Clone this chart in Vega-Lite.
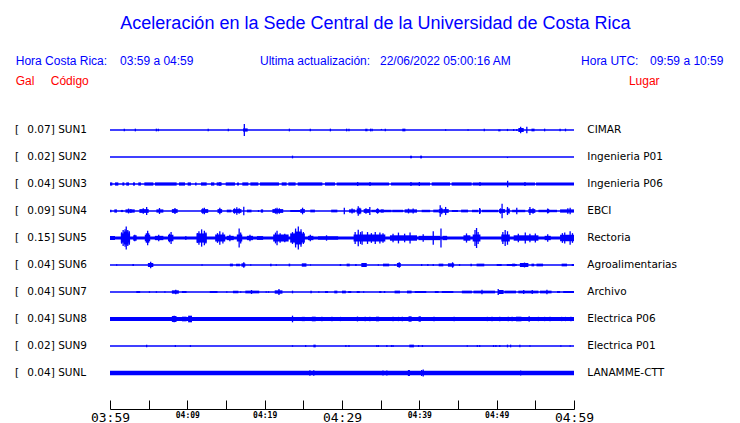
{
  "$schema": "https://vega.github.io/schema/vega-lite/v6.json",
  "width": 464,
  "height": 409,
  "autosize": {"type": "none"},
  "padding": {"left": 110, "right": 166, "top": 0, "bottom": 14},
  "background": "white",
  "config": {"view": {"stroke": null}, "axis": {"grid": false}},
  "encoding": {
    "x": {"field": "t", "type": "quantitative",
      "scale": {"domain": [0, 60], "nice": false, "zero": false},
      "axis": {"values": [0,5,10,15,20,25,30,35,40,45,50,55,60], "title": null, "grid": false, "domain": true,
        "domainColor": "black", "domainWidth": 1, "tickColor": "black", "tickSize": -9, "tickWidth": 1,
        "labelExpr": "datum.value % 10 === 0 ? ['03:59','04:09','04:19','04:29','04:39','04:49','04:59'][datum.value/10] : ''",
        "labelFont": "DejaVu Sans Mono",
        "labelFontSize": {"condition": {"test": "datum.value % 30 === 0", "value": 13}, "value": 8},
        "labelFontWeight": {"condition": {"test": "datum.value % 30 === 0", "value": "normal"}, "value": "bold"},
        "labelPadding": {"condition": {"test": "datum.value % 30 === 0", "value": 17}, "value": 15},
        "labelBaseline": "middle",
        "labelColor": "black", "labelOverlap": false, "labelFlush": false, "labelBound": false}},
    "y": {"field": "v", "type": "quantitative",
      "scale": {"domain": [-38.148, 113.333], "reverse": true, "nice": false, "zero": false}, "axis": null}
  },
  "layer": [
    {
      "data": {"values": [
        {"s":"SUN1","t":0,"t2":60,"v":10},{"s":"SUN2","t":0,"t2":60,"v":20},{"s":"SUN3","t":0,"t2":60,"v":30},
        {"s":"SUN4","t":0,"t2":60,"v":40},{"s":"SUN5","t":0,"t2":60,"v":50},{"s":"SUN6","t":0,"t2":60,"v":60},
        {"s":"SUN7","t":0,"t2":60,"v":70},{"s":"SUN8","t":0,"t2":60,"v":80},{"s":"SUN9","t":0,"t2":60,"v":90},
        {"s":"SUNL","t":0,"t2":60,"v":100}]},
      "mark": {"type": "rule", "color": "#0000ff", "strokeWidth": 1.3},
      "encoding": {"x2": {"field": "t2"}}
    },
    {
      "data": {"values": [
        {"s":"SUN1","t":17.2,"t2":17.8,"v":9.4,"v2":10.6},{"s":"SUN1","t":33.0,"t2":33.3,"v":9.5,"v2":10.5},
        {"s":"SUN1","t":37.8,"t2":38.2,"v":9.5,"v2":10.5},{"s":"SUN1","t":50.2,"t2":50.5,"v":9.8,"v2":10.5},
        {"s":"SUN1","t":52.8,"t2":53.5,"v":9.25,"v2":10.75},{"s":"SUN1","t":54.5,"t2":54.9,"v":9.5,"v2":10.5},
        {"s":"SUN2","t":38.8,"t2":39.05,"v":19.5,"v2":20.5},{"s":"SUN2","t":40.1,"t2":40.35,"v":19.5,"v2":20.5},
        {"s":"SUN3","t":0,"t2":0.3,"v":29.4,"v2":30.6},{"s":"SUN3","t":0.65,"t2":1.08,"v":29.4,"v2":30.6},
        {"s":"SUN3","t":1.6,"t2":1.85,"v":29.4,"v2":30.6},{"s":"SUN3","t":2.1,"t2":2.46,"v":29.4,"v2":30.6},
        {"s":"SUN3","t":2.97,"t2":3.23,"v":29.4,"v2":30.6},{"s":"SUN3","t":3.66,"t2":4.0,"v":29.4,"v2":30.6},
        {"s":"SUN3","t":4.44,"t2":5.6,"v":29.4,"v2":30.6},{"s":"SUN3","t":5.82,"t2":8.62,"v":29.4,"v2":30.6},
        {"s":"SUN3","t":8.92,"t2":9.7,"v":29.4,"v2":30.6},{"s":"SUN3","t":10.04,"t2":10.47,"v":29.4,"v2":30.6},
        {"s":"SUN3","t":11.0,"t2":11.2,"v":29.4,"v2":30.6},{"s":"SUN3","t":11.77,"t2":12.5,"v":29.4,"v2":30.6},
        {"s":"SUN3","t":13.06,"t2":13.49,"v":29.4,"v2":30.6},{"s":"SUN3","t":13.79,"t2":14.44,"v":29.4,"v2":30.6},
        {"s":"SUN3","t":14.96,"t2":16.16,"v":29.4,"v2":30.6},{"s":"SUN3","t":16.42,"t2":16.68,"v":29.4,"v2":30.6},
        {"s":"SUN3","t":17.11,"t2":17.89,"v":29.4,"v2":30.6},{"s":"SUN3","t":18.15,"t2":19.18,"v":29.4,"v2":30.6},
        {"s":"SUN3","t":19.4,"t2":21.85,"v":29.4,"v2":30.6},{"s":"SUN3","t":22.2,"t2":22.84,"v":29.4,"v2":30.6},
        {"s":"SUN3","t":23.06,"t2":24.0,"v":29.4,"v2":30.6},{"s":"SUN3","t":24.27,"t2":27.46,"v":29.4,"v2":30.6},
        {"s":"SUN3","t":27.8,"t2":29.1,"v":29.4,"v2":30.6},{"s":"SUN3","t":29.31,"t2":36.08,"v":29.4,"v2":30.6},
        {"s":"SUN3","t":36.34,"t2":41.38,"v":29.4,"v2":30.6},{"s":"SUN3","t":41.6,"t2":43.97,"v":29.4,"v2":30.6},
        {"s":"SUN3","t":44.18,"t2":46.77,"v":29.4,"v2":30.6},{"s":"SUN3","t":46.9,"t2":54.96,"v":29.4,"v2":30.6},
        {"s":"SUN3","t":55.09,"t2":60,"v":29.4,"v2":30.6},
        {"s":"SUN4","t":0,"t2":0.2,"v":39.5,"v2":40.5},{"s":"SUN4","t":0.56,"t2":0.9,"v":39.4,"v2":40.6},
        {"s":"SUN4","t":1.4,"t2":1.7,"v":39.6,"v2":40.4},{"s":"SUN4","t":2.0,"t2":3.2,"v":39.4,"v2":40.6},
        {"s":"SUN4","t":3.8,"t2":5.0,"v":39.3,"v2":40.7},{"s":"SUN4","t":6.0,"t2":6.9,"v":39.4,"v2":40.6},
        {"s":"SUN4","t":8.0,"t2":8.75,"v":39.3,"v2":40.7},{"s":"SUN4","t":11.8,"t2":12.7,"v":39.3,"v2":40.7},
        {"s":"SUN4","t":13.9,"t2":14.5,"v":39.3,"v2":40.7},{"s":"SUN4","t":15.1,"t2":15.7,"v":39.5,"v2":40.5},
        {"s":"SUN4","t":15.9,"t2":17.0,"v":39.3,"v2":40.7},{"s":"SUN4","t":17.7,"t2":18.3,"v":39.5,"v2":40.5},
        {"s":"SUN4","t":19.5,"t2":19.8,"v":39.4,"v2":40.6},{"s":"SUN4","t":21.0,"t2":22.4,"v":39.3,"v2":40.7},
        {"s":"SUN4","t":23.3,"t2":24.6,"v":39.63,"v2":40.37},{"s":"SUN4","t":24.6,"t2":25.2,"v":39.3,"v2":40.7},
        {"s":"SUN4","t":25.9,"t2":26.5,"v":39.5,"v2":40.5},{"s":"SUN4","t":28.6,"t2":29.4,"v":39.5,"v2":40.5},
        {"s":"SUN4","t":30.9,"t2":31.7,"v":39.4,"v2":40.6},{"s":"SUN4","t":31.9,"t2":32.5,"v":39.1,"v2":40.9},
        {"s":"SUN4","t":32.8,"t2":33.6,"v":39.3,"v2":40.7},{"s":"SUN4","t":33.8,"t2":36.4,"v":39.55,"v2":40.45},
        {"s":"SUN4","t":34.4,"t2":34.8,"v":39.3,"v2":40.7},{"s":"SUN4","t":35.0,"t2":35.4,"v":39.4,"v2":40.6},
        {"s":"SUN4","t":36.5,"t2":37.9,"v":39.55,"v2":40.45},{"s":"SUN4","t":38.1,"t2":39.7,"v":39.4,"v2":40.6},
        {"s":"SUN4","t":40.3,"t2":41.4,"v":39.55,"v2":40.45},{"s":"SUN4","t":41.8,"t2":42.5,"v":39.5,"v2":40.5},
        {"s":"SUN4","t":42.5,"t2":43.1,"v":39.3,"v2":40.7},{"s":"SUN4","t":43.1,"t2":43.8,"v":39.3,"v2":40.7},
        {"s":"SUN4","t":44.2,"t2":45.0,"v":39.63,"v2":40.37},{"s":"SUN4","t":45.4,"t2":46.3,"v":39.5,"v2":40.5},
        {"s":"SUN4","t":46.8,"t2":47.6,"v":39.55,"v2":40.45},{"s":"SUN4","t":47.7,"t2":47.95,"v":39.2,"v2":40.8},
        {"s":"SUN4","t":48.1,"t2":50.2,"v":39.55,"v2":40.45},{"s":"SUN4","t":50.3,"t2":51.1,"v":39.3,"v2":40.7},
        {"s":"SUN4","t":51.3,"t2":51.7,"v":39.1,"v2":40.9},{"s":"SUN4","t":52.0,"t2":53.7,"v":39.55,"v2":40.45},
        {"s":"SUN4","t":54.1,"t2":55.0,"v":39.3,"v2":40.7},{"s":"SUN4","t":55.4,"t2":57.8,"v":39.55,"v2":40.45},
        {"s":"SUN4","t":56.5,"t2":56.8,"v":39.3,"v2":40.7},{"s":"SUN4","t":58.2,"t2":60,"v":39.4,"v2":40.6},
        {"s":"SUN5","t":0,"t2":60,"v":49.4,"v2":50.6},{"s":"SUN5","t":0,"t2":0.65,"v":49.26,"v2":50.74},
        {"s":"SUN5","t":1.4,"t2":2.6,"v":48.3,"v2":51.7},{"s":"SUN5","t":1.8,"t2":2.4,"v":47.6,"v2":52.4},
        {"s":"SUN5","t":3.0,"t2":3.45,"v":49.0,"v2":51.0},{"s":"SUN5","t":4.5,"t2":5.2,"v":48.8,"v2":51.2},
        {"s":"SUN5","t":5.8,"t2":6.9,"v":49.2,"v2":50.8},{"s":"SUN5","t":7.5,"t2":8.2,"v":48.8,"v2":51.2},
        {"s":"SUN5","t":9.7,"t2":9.9,"v":49.38,"v2":50.62},{"s":"SUN5","t":11.2,"t2":12.5,"v":48.3,"v2":51.7},
        {"s":"SUN5","t":13.6,"t2":14.9,"v":48.7,"v2":51.3},{"s":"SUN5","t":15.1,"t2":16.0,"v":49.2,"v2":50.8},
        {"s":"SUN5","t":16.4,"t2":17.1,"v":48.7,"v2":51.3},{"s":"SUN5","t":17.7,"t2":18.5,"v":49.2,"v2":50.8},
        {"s":"SUN5","t":19.0,"t2":19.8,"v":49.3,"v2":50.7},{"s":"SUN5","t":21.1,"t2":23.1,"v":48.7,"v2":51.3},
        {"s":"SUN5","t":23.3,"t2":25.2,"v":48.3,"v2":51.7},{"s":"SUN5","t":23.9,"t2":24.8,"v":47.6,"v2":52.4},
        {"s":"SUN5","t":25.6,"t2":26.3,"v":49.2,"v2":50.8},{"s":"SUN5","t":26.9,"t2":29.5,"v":49.38,"v2":50.62},
        {"s":"SUN5","t":31.5,"t2":35.6,"v":48.7,"v2":51.3},{"s":"SUN5","t":36.2,"t2":39.7,"v":49.0,"v2":51.0},
        {"s":"SUN5","t":39.9,"t2":42.7,"v":49.2,"v2":50.8},{"s":"SUN5","t":43.0,"t2":43.6,"v":49.2,"v2":50.8},
        {"s":"SUN5","t":45.7,"t2":46.6,"v":49.0,"v2":51.0},{"s":"SUN5","t":46.9,"t2":47.9,"v":48.7,"v2":51.3},
        {"s":"SUN5","t":50.6,"t2":51.7,"v":48.7,"v2":51.3},{"s":"SUN5","t":52.2,"t2":55.4,"v":49.0,"v2":51.0},
        {"s":"SUN5","t":56.2,"t2":57.0,"v":49.2,"v2":50.8},{"s":"SUN5","t":58.2,"t2":60,"v":48.8,"v2":51.2},
        {"s":"SUN6","t":2.9,"t2":3.1,"v":59.63,"v2":60.37},{"s":"SUN6","t":4.9,"t2":5.6,"v":59.26,"v2":60.74},
        {"s":"SUN6","t":15.5,"t2":15.9,"v":59.5,"v2":60.5},{"s":"SUN6","t":16.3,"t2":16.8,"v":59.5,"v2":60.5},
        {"s":"SUN6","t":17.0,"t2":17.5,"v":59.38,"v2":60.62},{"s":"SUN6","t":20.7,"t2":20.9,"v":59.5,"v2":60.5},
        {"s":"SUN6","t":23.1,"t2":23.3,"v":59.5,"v2":60.5},{"s":"SUN6","t":24.8,"t2":25.4,"v":59.38,"v2":60.62},
        {"s":"SUN6","t":25.9,"t2":26.0,"v":59.63,"v2":60.37},{"s":"SUN6","t":29.7,"t2":29.9,"v":59.63,"v2":60.37},
        {"s":"SUN6","t":30.6,"t2":31.0,"v":59.5,"v2":60.5},{"s":"SUN6","t":31.7,"t2":31.9,"v":59.63,"v2":60.37},
        {"s":"SUN6","t":32.5,"t2":33.2,"v":59.26,"v2":60.74},{"s":"SUN6","t":35.3,"t2":36.1,"v":59.5,"v2":60.5},
        {"s":"SUN6","t":36.8,"t2":36.9,"v":59.63,"v2":60.37},{"s":"SUN6","t":37.1,"t2":37.6,"v":59.26,"v2":60.74},
        {"s":"SUN6","t":42.5,"t2":43.1,"v":59.5,"v2":60.5},{"s":"SUN6","t":43.7,"t2":44.5,"v":59.38,"v2":60.62},
        {"s":"SUN6","t":46.6,"t2":46.8,"v":59.5,"v2":60.5},{"s":"SUN6","t":47.4,"t2":48.4,"v":59.5,"v2":60.5},
        {"s":"SUN6","t":50.0,"t2":50.65,"v":59.63,"v2":60.37},{"s":"SUN6","t":51.3,"t2":52.6,"v":59.63,"v2":60.37},
        {"s":"SUN6","t":52.0,"t2":52.4,"v":59.5,"v2":60.5},{"s":"SUN6","t":53.0,"t2":54.1,"v":59.26,"v2":60.74},
        {"s":"SUN6","t":54.5,"t2":54.85,"v":59.5,"v2":60.5},{"s":"SUN6","t":55.15,"t2":56.0,"v":59.5,"v2":60.5},
        {"s":"SUN6","t":58.4,"t2":59.1,"v":59.5,"v2":60.5},{"s":"SUN6","t":59.7,"t2":60,"v":59.63,"v2":60.37},
        {"s":"SUN7","t":3.4,"t2":3.9,"v":69.63,"v2":70.37},{"s":"SUN7","t":8.0,"t2":8.9,"v":69.38,"v2":70.62},
        {"s":"SUN7","t":9.3,"t2":9.9,"v":69.63,"v2":70.37},{"s":"SUN7","t":12.9,"t2":13.9,"v":69.63,"v2":70.37},
        {"s":"SUN7","t":15.9,"t2":16.6,"v":69.5,"v2":70.5},{"s":"SUN7","t":17.5,"t2":19.3,"v":69.5,"v2":70.5},
        {"s":"SUN7","t":21.3,"t2":22.3,"v":69.38,"v2":70.62},{"s":"SUN7","t":25.9,"t2":26.1,"v":69.5,"v2":70.5},
        {"s":"SUN7","t":27.8,"t2":28.2,"v":69.63,"v2":70.37},{"s":"SUN7","t":29.0,"t2":29.4,"v":69.5,"v2":70.5},
        {"s":"SUN7","t":30.0,"t2":30.5,"v":69.5,"v2":70.5},{"s":"SUN7","t":30.8,"t2":31.2,"v":69.63,"v2":70.37},
        {"s":"SUN7","t":31.9,"t2":32.3,"v":69.63,"v2":70.37},{"s":"SUN7","t":34.8,"t2":35.1,"v":69.63,"v2":70.37},
        {"s":"SUN7","t":35.4,"t2":35.6,"v":69.63,"v2":70.37},{"s":"SUN7","t":36.8,"t2":37.5,"v":69.5,"v2":70.5},
        {"s":"SUN7","t":38.4,"t2":39.0,"v":69.5,"v2":70.5},{"s":"SUN7","t":39.4,"t2":40.9,"v":69.63,"v2":70.37},
        {"s":"SUN7","t":42.0,"t2":42.5,"v":69.63,"v2":70.37},{"s":"SUN7","t":42.9,"t2":44.4,"v":69.63,"v2":70.37},
        {"s":"SUN7","t":45.5,"t2":46.8,"v":69.5,"v2":70.5},{"s":"SUN7","t":47.0,"t2":49.8,"v":69.5,"v2":70.5},
        {"s":"SUN7","t":50.2,"t2":50.9,"v":69.26,"v2":70.74},{"s":"SUN7","t":51.0,"t2":52.5,"v":69.5,"v2":70.5},
        {"s":"SUN7","t":52.8,"t2":55.4,"v":69.5,"v2":70.5},{"s":"SUN7","t":55.6,"t2":57.1,"v":69.5,"v2":70.5},
        {"s":"SUN7","t":57.8,"t2":58.2,"v":69.63,"v2":70.37},{"s":"SUN7","t":58.6,"t2":60,"v":69.63,"v2":70.37},
        {"s":"SUN8","t":0,"t2":60,"v":79.3,"v2":80.7},{"s":"SUN8","t":7.3,"t2":7.5,"v":79.26,"v2":80.74},
        {"s":"SUN8","t":8.0,"t2":8.6,"v":78.9,"v2":81.1},{"s":"SUN8","t":9.3,"t2":9.9,"v":79.14,"v2":80.86},
        {"s":"SUN8","t":10.1,"t2":10.6,"v":78.77,"v2":81.23},{"s":"SUN8","t":12.3,"t2":12.7,"v":79.26,"v2":80.74},
        {"s":"SUN8","t":20.9,"t2":21.3,"v":79.26,"v2":80.74},{"s":"SUN8","t":24.8,"t2":25.2,"v":79.2,"v2":80.8},
        {"s":"SUN8","t":26.1,"t2":26.6,"v":79.14,"v2":80.86},{"s":"SUN8","t":34.4,"t2":34.8,"v":79.14,"v2":80.86},
        {"s":"SUN8","t":38.6,"t2":39.0,"v":79.0,"v2":81.0},{"s":"SUN8","t":39.9,"t2":40.2,"v":79.0,"v2":81.0},
        {"s":"SUN8","t":41.8,"t2":42.0,"v":79.14,"v2":80.86},{"s":"SUN8","t":45.7,"t2":46.4,"v":79.26,"v2":80.74},
        {"s":"SUN8","t":47.4,"t2":48.1,"v":79.26,"v2":80.74},{"s":"SUN8","t":52.5,"t2":53.2,"v":79.14,"v2":80.86},
        {"s":"SUN8","t":53.8,"t2":54.7,"v":79.26,"v2":80.74},{"s":"SUN8","t":57.5,"t2":57.8,"v":79.26,"v2":80.74},
        {"s":"SUN9","t":26.3,"t2":26.6,"v":89.5,"v2":90.5},{"s":"SUN9","t":38.7,"t2":39.3,"v":89.5,"v2":90.5},
        {"s":"SUNL","t":0,"t2":60,"v":99.2,"v2":100.8}
      ]},
      "mark": {"type": "rect", "color": "#0000ff"},
      "encoding": {"x2": {"field": "t2"}, "y2": {"field": "v2"}}
    },
    {
      "data": {"values": [
        {"s":"SUN1","t":1.85,"v":9.5,"v2":10.5},{"s":"SUN1","t":3.28,"v":9.5,"v2":10.5},{"s":"SUN1","t":6.0,"v":9.5,"v2":10.5},
        {"s":"SUN1","t":6.25,"v":9.5,"v2":10.5},{"s":"SUN1","t":12.7,"v":9.5,"v2":10.5},{"s":"SUN1","t":15.3,"v":9.5,"v2":10.5},
        {"s":"SUN1","t":17.37,"v":7.8,"v2":12.2},{"s":"SUN1","t":23.2,"v":9.5,"v2":10.5},{"s":"SUN1","t":25.9,"v":9.5,"v2":10.5},
        {"s":"SUN1","t":28.5,"v":9.5,"v2":10.5},{"s":"SUN1","t":30.6,"v":9.5,"v2":10.5},{"s":"SUN1","t":30.9,"v":9.5,"v2":10.5},
        {"s":"SUN1","t":33.7,"v":9.5,"v2":10.5},{"s":"SUN1","t":33.9,"v":9.5,"v2":10.5},{"s":"SUN1","t":35.1,"v":9.6,"v2":10.0},
        {"s":"SUN1","t":35.6,"v":9.5,"v2":10.5},{"s":"SUN1","t":43.4,"v":9.7,"v2":10.3},{"s":"SUN1","t":46.3,"v":9.7,"v2":10.3},
        {"s":"SUN1","t":48.4,"v":9.5,"v2":10.5},{"s":"SUN1","t":51.4,"v":9.6,"v2":10.4},{"s":"SUN1","t":52.2,"v":9.6,"v2":10.4},
        {"s":"SUN1","t":52.6,"v":9.6,"v2":10.4},{"s":"SUN1","t":53.1,"v":8.8,"v2":11.2},{"s":"SUN1","t":53.9,"v":8.8,"v2":11.2},
        {"s":"SUN1","t":56.2,"v":9.5,"v2":10.5},{"s":"SUN1","t":58.2,"v":9.5,"v2":10.5},{"s":"SUN1","t":58.9,"v":9.5,"v2":10.5},
        {"s":"SUN2","t":23.6,"v":19.5,"v2":20.5},{"s":"SUN2","t":51.4,"v":20.0,"v2":20.4},
        {"s":"SUN3","t":14.22,"v":29.25,"v2":30.75},{"s":"SUN3","t":32.03,"v":29.25,"v2":30.75},{"s":"SUN3","t":33.62,"v":29.25,"v2":30.75},
        {"s":"SUN3","t":38.92,"v":29.25,"v2":30.75},{"s":"SUN3","t":40.0,"v":29.25,"v2":30.75},{"s":"SUN3","t":47.84,"v":29.25,"v2":30.75},
        {"s":"SUN3","t":53.66,"v":29.25,"v2":30.75},{"s":"SUN3","t":51.42,"v":28.8,"v2":31.2},
        {"s":"SUN4","t":2.4,"v":39.1,"v2":40.9},{"s":"SUN4","t":2.7,"v":39.3,"v2":40.7},{"s":"SUN4","t":4.3,"v":39.0,"v2":41.0},
        {"s":"SUN4","t":4.74,"v":38.5,"v2":41.5},{"s":"SUN4","t":6.4,"v":38.9,"v2":41.1},{"s":"SUN4","t":8.4,"v":38.9,"v2":41.1},
        {"s":"SUN4","t":12.0,"v":39.0,"v2":41.0},{"s":"SUN4","t":12.2,"v":38.77,"v2":41.23},{"s":"SUN4","t":14.2,"v":38.77,"v2":41.23},
        {"s":"SUN4","t":16.1,"v":39.0,"v2":41.0},{"s":"SUN4","t":16.4,"v":38.64,"v2":41.36},{"s":"SUN4","t":16.7,"v":39.0,"v2":41.0},
        {"s":"SUN4","t":17.3,"v":38.4,"v2":41.6},{"s":"SUN4","t":19.2,"v":39.63,"v2":40.37},{"s":"SUN4","t":21.4,"v":39.0,"v2":41.0},
        {"s":"SUN4","t":21.6,"v":38.77,"v2":41.23},{"s":"SUN4","t":21.9,"v":39.0,"v2":41.0},{"s":"SUN4","t":24.9,"v":38.77,"v2":41.23},
        {"s":"SUN4","t":30.3,"v":38.77,"v2":41.23},{"s":"SUN4","t":31.3,"v":39.1,"v2":40.9},{"s":"SUN4","t":32.1,"v":38.27,"v2":41.73},
        {"s":"SUN4","t":32.3,"v":38.8,"v2":41.2},{"s":"SUN4","t":33.1,"v":39.0,"v2":41.0},{"s":"SUN4","t":33.6,"v":38.5,"v2":41.5},
        {"s":"SUN4","t":34.6,"v":39.0,"v2":41.0},{"s":"SUN4","t":38.6,"v":39.1,"v2":40.9},{"s":"SUN4","t":39.2,"v":39.1,"v2":40.9},
        {"s":"SUN4","t":42.7,"v":37.9,"v2":42.1},{"s":"SUN4","t":42.9,"v":38.8,"v2":41.2},{"s":"SUN4","t":43.4,"v":38.5,"v2":41.5},
        {"s":"SUN4","t":47.8,"v":38.9,"v2":41.1},{"s":"SUN4","t":50.7,"v":37.3,"v2":42.7},{"s":"SUN4","t":50.5,"v":39.0,"v2":41.0},
        {"s":"SUN4","t":51.4,"v":38.5,"v2":41.5},{"s":"SUN4","t":52.6,"v":38.77,"v2":41.23},{"s":"SUN4","t":54.3,"v":38.5,"v2":41.5},
        {"s":"SUN4","t":54.7,"v":39.0,"v2":41.0},{"s":"SUN4","t":56.6,"v":39.1,"v2":40.9},{"s":"SUN4","t":59.2,"v":39.0,"v2":41.0},
        {"s":"SUN4","t":59.5,"v":38.77,"v2":41.23},
        {"s":"SUN5","t":2.1,"v":45.7,"v2":54.3},{"s":"SUN5","t":1.7,"v":47.0,"v2":53.0},{"s":"SUN5","t":2.5,"v":47.5,"v2":52.5},
        {"s":"SUN5","t":1.5,"v":47.9,"v2":52.1},{"s":"SUN5","t":2.3,"v":47.0,"v2":53.0},{"s":"SUN5","t":1.95,"v":46.8,"v2":53.2},
        {"s":"SUN5","t":3.2,"v":48.8,"v2":51.2},{"s":"SUN5","t":4.7,"v":48.2,"v2":51.8},
        {"s":"SUN5","t":4.87,"v":47.3,"v2":52.7},{"s":"SUN5","t":5.0,"v":48.2,"v2":51.8},{"s":"SUN5","t":6.3,"v":48.8,"v2":51.2},
        {"s":"SUN5","t":7.9,"v":47.8,"v2":52.2},{"s":"SUN5","t":7.7,"v":48.4,"v2":51.6},{"s":"SUN5","t":11.5,"v":47.5,"v2":52.5},
        {"s":"SUN5","t":11.85,"v":46.8,"v2":53.2},{"s":"SUN5","t":12.2,"v":47.3,"v2":52.7},{"s":"SUN5","t":11.3,"v":48.2,"v2":51.8},
        {"s":"SUN5","t":12.4,"v":48.0,"v2":52.0},{"s":"SUN5","t":13.9,"v":48.2,"v2":51.8},{"s":"SUN5","t":14.2,"v":47.5,"v2":52.5},
        {"s":"SUN5","t":14.6,"v":48.0,"v2":52.0},{"s":"SUN5","t":15.5,"v":48.8,"v2":51.2},
        {"s":"SUN5","t":16.7,"v":46.5,"v2":53.5},{"s":"SUN5","t":16.9,"v":48.0,"v2":52.0},{"s":"SUN5","t":18.1,"v":48.8,"v2":51.2},
        {"s":"SUN5","t":21.6,"v":47.3,"v2":52.7},{"s":"SUN5","t":21.4,"v":48.0,"v2":52.0},{"s":"SUN5","t":22.0,"v":48.2,"v2":51.8},
        {"s":"SUN5","t":22.6,"v":48.4,"v2":51.6},{"s":"SUN5","t":23.6,"v":47.8,"v2":52.2},{"s":"SUN5","t":24.0,"v":46.5,"v2":53.5},
        {"s":"SUN5","t":24.35,"v":45.7,"v2":54.3},{"s":"SUN5","t":24.7,"v":46.8,"v2":53.2},{"s":"SUN5","t":25.0,"v":47.8,"v2":52.2},
        {"s":"SUN5","t":25.9,"v":48.8,"v2":51.2},{"s":"SUN5","t":28.0,"v":49.0,"v2":51.0},
        {"s":"SUN5","t":31.7,"v":47.8,"v2":52.2},{"s":"SUN5","t":32.1,"v":46.9,"v2":53.1},{"s":"SUN5","t":32.4,"v":47.8,"v2":52.2},
        {"s":"SUN5","t":32.6,"v":47.5,"v2":52.5},{"s":"SUN5","t":33.3,"v":47.8,"v2":52.2},{"s":"SUN5","t":33.8,"v":48.2,"v2":51.8},
        {"s":"SUN5","t":34.3,"v":47.8,"v2":52.2},{"s":"SUN5","t":34.9,"v":48.0,"v2":52.0},{"s":"SUN5","t":35.3,"v":48.2,"v2":51.8},
        {"s":"SUN5","t":36.6,"v":48.4,"v2":51.6},{"s":"SUN5","t":37.3,"v":48.0,"v2":52.0},{"s":"SUN5","t":38.1,"v":48.4,"v2":51.6},
        {"s":"SUN5","t":38.8,"v":48.0,"v2":52.0},{"s":"SUN5","t":40.5,"v":48.6,"v2":51.4},
        {"s":"SUN5","t":41.8,"v":47.5,"v2":52.5},{"s":"SUN5","t":42.8,"v":46.5,"v2":53.5},{"s":"SUN5","t":46.1,"v":48.3,"v2":51.7},
        {"s":"SUN5","t":47.2,"v":47.0,"v2":53.0},{"s":"SUN5","t":47.4,"v":46.3,"v2":53.7},{"s":"SUN5","t":47.6,"v":47.8,"v2":52.2},
        {"s":"SUN5","t":50.8,"v":47.8,"v2":52.2},{"s":"SUN5","t":51.1,"v":47.0,"v2":53.0},{"s":"SUN5","t":51.4,"v":47.5,"v2":52.5},
        {"s":"SUN5","t":52.8,"v":48.4,"v2":51.6},{"s":"SUN5","t":53.7,"v":48.0,"v2":52.0},{"s":"SUN5","t":54.3,"v":48.4,"v2":51.6},
        {"s":"SUN5","t":55.0,"v":48.3,"v2":51.7},{"s":"SUN5","t":56.6,"v":48.6,"v2":51.4},{"s":"SUN5","t":58.5,"v":48.2,"v2":51.8},
        {"s":"SUN5","t":58.8,"v":48.0,"v2":52.0},{"s":"SUN5","t":59.5,"v":47.5,"v2":52.5},{"s":"SUN5","t":59.8,"v":48.2,"v2":51.8},
        {"s":"SUN6","t":0.86,"v":59.7,"v2":60.3},{"s":"SUN6","t":5.26,"v":58.77,"v2":61.23},{"s":"SUN6","t":11.9,"v":59.7,"v2":60.3},
        {"s":"SUN6","t":17.3,"v":59.0,"v2":61.0},{"s":"SUN6","t":18.2,"v":59.7,"v2":60.3},{"s":"SUN6","t":21.5,"v":59.7,"v2":60.3},
        {"s":"SUN6","t":34.7,"v":59.7,"v2":60.3},{"s":"SUN6","t":37.4,"v":59.0,"v2":61.0},{"s":"SUN6","t":40.3,"v":59.63,"v2":60.37},
        {"s":"SUN6","t":41.1,"v":59.63,"v2":60.37},{"s":"SUN6","t":41.8,"v":59.63,"v2":60.37},{"s":"SUN6","t":44.3,"v":59.0,"v2":61.0},
        {"s":"SUN6","t":45.2,"v":59.63,"v2":60.37},{"s":"SUN6","t":53.6,"v":59.1,"v2":60.9},
        {"s":"SUN7","t":5.1,"v":69.7,"v2":70.3},{"s":"SUN7","t":6.0,"v":69.7,"v2":70.3},{"s":"SUN7","t":7.1,"v":69.7,"v2":70.3},
        {"s":"SUN7","t":8.5,"v":69.14,"v2":70.86},{"s":"SUN7","t":15.1,"v":69.7,"v2":70.3},{"s":"SUN7","t":16.9,"v":69.7,"v2":70.3},
        {"s":"SUN7","t":18.3,"v":69.26,"v2":70.74},{"s":"SUN7","t":20.2,"v":69.7,"v2":70.3},{"s":"SUN7","t":20.5,"v":69.7,"v2":70.3},
        {"s":"SUN7","t":21.85,"v":68.9,"v2":71.1},{"s":"SUN7","t":23.6,"v":69.5,"v2":70.5},{"s":"SUN7","t":27.0,"v":69.7,"v2":70.3},
        {"s":"SUN7","t":32.8,"v":69.7,"v2":70.3},{"s":"SUN7","t":48.1,"v":69.14,"v2":70.86},{"s":"SUN7","t":50.2,"v":68.9,"v2":71.1},
        {"s":"SUN7","t":53.5,"v":69.26,"v2":70.74},{"s":"SUN7","t":54.6,"v":69.26,"v2":70.74},{"s":"SUN7","t":56.5,"v":69.14,"v2":70.86},
        {"s":"SUN8","t":4.8,"v":79.26,"v2":80.74},{"s":"SUN8","t":6.4,"v":79.5,"v2":80.5},{"s":"SUN8","t":8.3,"v":78.77,"v2":81.23},
        {"s":"SUN8","t":18.3,"v":79.26,"v2":80.74},{"s":"SUN8","t":23.6,"v":78.77,"v2":81.23},{"s":"SUN8","t":27.4,"v":79.2,"v2":80.8},
        {"s":"SUN8","t":28.7,"v":79.2,"v2":80.8},{"s":"SUN8","t":29.8,"v":79.2,"v2":80.8},{"s":"SUN8","t":32.0,"v":79.1,"v2":80.9},
        {"s":"SUN8","t":33.0,"v":79.2,"v2":80.8},{"s":"SUN8","t":33.6,"v":79.2,"v2":80.8},{"s":"SUN8","t":36.6,"v":79.2,"v2":80.8},
        {"s":"SUN8","t":37.3,"v":79.2,"v2":80.8},{"s":"SUN8","t":37.8,"v":79.2,"v2":80.8},{"s":"SUN8","t":44.5,"v":79.2,"v2":80.8},
        {"s":"SUN8","t":48.8,"v":79.2,"v2":80.8},{"s":"SUN8","t":49.4,"v":79.2,"v2":80.8},{"s":"SUN8","t":50.4,"v":79.2,"v2":80.8},
        {"s":"SUN8","t":51.5,"v":79.2,"v2":80.8},{"s":"SUN8","t":52.0,"v":79.2,"v2":80.8},{"s":"SUN8","t":54.2,"v":79.0,"v2":81.0},
        {"s":"SUN8","t":55.4,"v":79.2,"v2":80.8},{"s":"SUN8","t":56.2,"v":79.2,"v2":80.8},{"s":"SUN8","t":56.9,"v":79.2,"v2":80.8},
        {"s":"SUN8","t":58.4,"v":79.2,"v2":80.8},{"s":"SUN8","t":58.9,"v":79.2,"v2":80.8},{"s":"SUN8","t":59.6,"v":79.2,"v2":80.8},
        {"s":"SUN9","t":4.74,"v":89.5,"v2":90.5},{"s":"SUN9","t":8.45,"v":89.63,"v2":90.37},{"s":"SUN9","t":10.4,"v":89.63,"v2":90.37},
        {"s":"SUN9","t":23.6,"v":89.7,"v2":90.3},{"s":"SUN9","t":25.3,"v":89.63,"v2":90.37},{"s":"SUN9","t":30.5,"v":89.63,"v2":90.37},
        {"s":"SUN9","t":30.9,"v":89.63,"v2":90.37},{"s":"SUN9","t":34.5,"v":89.63,"v2":90.37},{"s":"SUN9","t":34.7,"v":89.63,"v2":90.37},
        {"s":"SUN9","t":35.8,"v":89.63,"v2":90.37},{"s":"SUN9","t":36.4,"v":89.63,"v2":90.37},{"s":"SUN9","t":36.6,"v":89.63,"v2":90.37},
        {"s":"SUN9","t":39.9,"v":89.63,"v2":90.37},{"s":"SUN9","t":40.4,"v":89.63,"v2":90.37},{"s":"SUN9","t":46.2,"v":89.7,"v2":90.3},
        {"s":"SUN9","t":47.5,"v":89.63,"v2":90.37},{"s":"SUN9","t":47.8,"v":89.63,"v2":90.37},{"s":"SUN9","t":49.6,"v":89.63,"v2":90.37},
        {"s":"SUN9","t":49.9,"v":89.63,"v2":90.37},{"s":"SUN9","t":50.4,"v":89.63,"v2":90.37},{"s":"SUN9","t":51.4,"v":89.5,"v2":90.5},
        {"s":"SUN9","t":51.8,"v":89.5,"v2":90.5},{"s":"SUN9","t":53.0,"v":89.5,"v2":90.5},{"s":"SUN9","t":54.3,"v":89.7,"v2":90.3},
        {"s":"SUN9","t":58.3,"v":89.7,"v2":90.3},{"s":"SUN9","t":59.5,"v":89.7,"v2":90.3},
        {"s":"SUNL","t":25.85,"v":99.0,"v2":101.0},{"s":"SUNL","t":26.35,"v":99.0,"v2":101.0},{"s":"SUNL","t":35.3,"v":99.1,"v2":100.9},
        {"s":"SUNL","t":35.8,"v":99.1,"v2":100.9},{"s":"SUNL","t":38.6,"v":98.9,"v2":101.1},{"s":"SUNL","t":38.7,"v":98.9,"v2":101.1},
        {"s":"SUNL","t":40.3,"v":98.9,"v2":101.1},{"s":"SUNL","t":40.5,"v":98.7,"v2":101.3},{"s":"SUNL","t":53.1,"v":99.1,"v2":100.9}
      ]},
      "mark": {"type": "rule", "color": "#0000ff", "strokeWidth": 1.3},
      "encoding": {"y2": {"field": "v2"}}
    },
    {
      "data": {"values": [{"label": "Aceleración en la Sede Central de la Universidad de Costa Rica", "t": 34.33, "v": -29.3}]},
      "mark": {"type": "text", "color": "#0000ff", "font": "Liberation Sans", "fontSize": 18, "align": "center", "baseline": "middle"},
      "encoding": {"text": {"field": "label"}}
    },
    {
      "data": {"values": [
        {"label": "Hora Costa Rica:", "t": -12.19, "v": -15.56},
        {"label": "03:59 a 04:59", "t": 1.3, "v": -15.56},
        {"label": "Ultima actualización:", "t": 19.4, "v": -15.56},
        {"label": "22/06/2022 05:00:16 AM", "t": 34.91, "v": -15.56},
        {"label": "Hora UTC:", "t": 60.91, "v": -15.56},
        {"label": "09:59 a 10:59", "t": 69.83, "v": -15.56}]},
      "mark": {"type": "text", "color": "#0000ff", "font": "Liberation Sans", "fontSize": 12, "align": "left", "baseline": "middle"},
      "encoding": {"text": {"field": "label"}}
    },
    {
      "data": {"values": [
        {"label": "Gal", "t": -12.19, "v": -8.26},
        {"label": "Código", "t": -7.66, "v": -8.26},
        {"label": "Lugar", "t": 67.1, "v": -8.26}]},
      "mark": {"type": "text", "color": "#ff0000", "font": "Liberation Sans", "fontSize": 12, "align": "left", "baseline": "middle"},
      "encoding": {"text": {"field": "label"}}
    },
    {
      "data": {"values": [
        {"label": "[", "t": -12.28, "v": 10}, {"label": "0.07] SUN1", "t": -10.69, "v": 10}, {"label": "CIMAR", "t": 61.72, "v": 10},
        {"label": "[", "t": -12.28, "v": 20}, {"label": "0.02] SUN2", "t": -10.69, "v": 20}, {"label": "Ingenieria P01", "t": 61.72, "v": 20},
        {"label": "[", "t": -12.28, "v": 30}, {"label": "0.04] SUN3", "t": -10.69, "v": 30}, {"label": "Ingenieria P06", "t": 61.72, "v": 30},
        {"label": "[", "t": -12.28, "v": 40}, {"label": "0.09] SUN4", "t": -10.69, "v": 40}, {"label": "EBCI", "t": 61.72, "v": 40},
        {"label": "[", "t": -12.28, "v": 50}, {"label": "0.15] SUN5", "t": -10.69, "v": 50}, {"label": "Rectoria", "t": 61.72, "v": 50},
        {"label": "[", "t": -12.28, "v": 60}, {"label": "0.04] SUN6", "t": -10.69, "v": 60}, {"label": "Agroalimentarias", "t": 61.72, "v": 60},
        {"label": "[", "t": -12.28, "v": 70}, {"label": "0.04] SUN7", "t": -10.69, "v": 70}, {"label": "Archivo", "t": 61.72, "v": 70},
        {"label": "[", "t": -12.28, "v": 80}, {"label": "0.04] SUN8", "t": -10.69, "v": 80}, {"label": "Electrica P06", "t": 61.72, "v": 80},
        {"label": "[", "t": -12.28, "v": 90}, {"label": "0.02] SUN9", "t": -10.69, "v": 90}, {"label": "Electrica P01", "t": 61.72, "v": 90},
        {"label": "[", "t": -12.28, "v": 100}, {"label": "0.04] SUNL", "t": -10.69, "v": 100}, {"label": "LANAMME-CTT", "t": 61.72, "v": 100}]},
      "mark": {"type": "text", "color": "black", "font": "DejaVu Sans", "fontSize": 10.5, "align": "left", "baseline": "middle"},
      "encoding": {"text": {"field": "label"}}
    }
  ]
}
